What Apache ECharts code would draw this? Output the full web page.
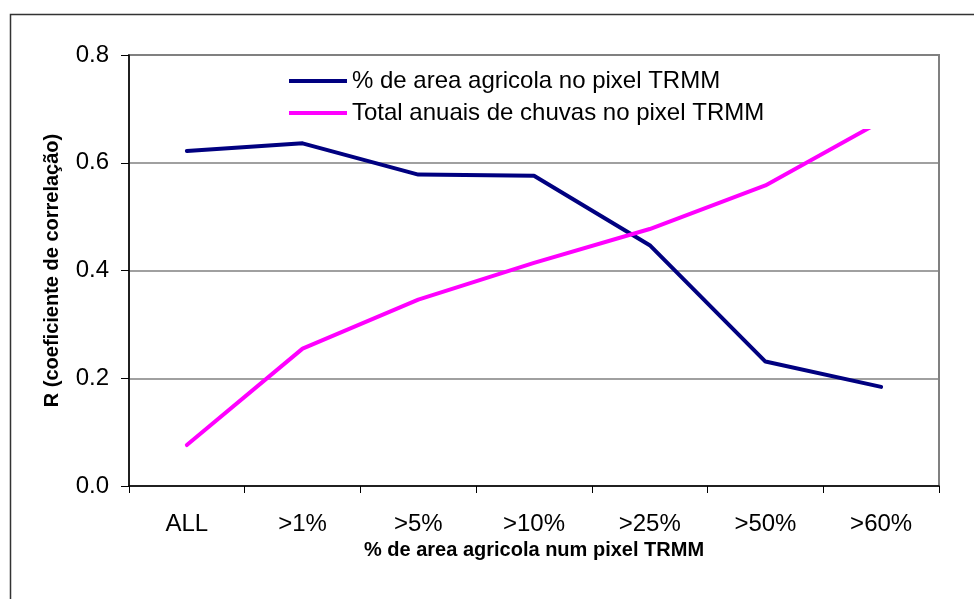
<!DOCTYPE html>
<html>
<head>
<meta charset="utf-8">
<script src="https://cdn.jsdelivr.net/npm/echarts@6/dist/echarts.min.js"></script>
<style>
  html, body { margin: 0; padding: 0; background: #fff; }
  #chart { width: 974px; height: 599px; }
</style>
</head>
<body>
<div id="chart"></div>
<script>
const categories = ['ALL', '>1%', '>5%', '>10%', '>25%', '>50%', '>60%'];
const seriesAgri = [0.622, 0.636, 0.578, 0.576, 0.447, 0.231, 0.184];
const seriesRain = [0.076, 0.255, 0.346, 0.414, 0.477, 0.558, 0.677];
const seriesNames = ['% de area agricola no pixel TRMM', 'Total anuais de chuvas no pixel TRMM'];
const yTicks = [0, 0.2, 0.4, 0.6, 0.8];
const xTitle = '% de area agricola num pixel TRMM';
const yTitle = 'R (coeficiente de correlação)';

const FONT = 'Arial, "Liberation Sans", sans-serif';
const chart = echarts.init(document.getElementById('chart'), null, { renderer: 'canvas' });
chart.setOption({
  animation: false,
  backgroundColor: '#ffffff',
  graphic: [{
    type: 'rect', silent: true, z: 0,
    shape: { x: 10.5, y: 14.5, width: 1000, height: 1000 },
    style: { fill: 'none', stroke: '#333333', lineWidth: 1.5 }
  }],
  grid: { left: 129, right: 35, top: 55, bottom: 113, show: true, borderColor: '#808080', borderWidth: 2, backgroundColor: 'transparent' },
  legend: {
    orient: 'vertical',
    left: 284, top: 64,
    padding: [5, 150, 4, 5],
    backgroundColor: '#ffffff',
    icon: 'rect',
    itemWidth: 58, itemHeight: 4,
    itemGap: 8,
    textStyle: { fontFamily: FONT, fontSize: 24, color: '#000', lineHeight: 24 },
    data: seriesNames
  },
  xAxis: {
    type: 'category',
    data: categories,
    boundaryGap: true,
    name: xTitle,
    nameLocation: 'middle',
    nameGap: 52,
    nameTextStyle: { fontFamily: FONT, fontSize: 20, fontWeight: 'bold', color: '#000' },
    axisLine: { lineStyle: { color: '#000', width: 1.5 } },
    axisTick: { show: true, length: 7, lineStyle: { color: '#000' } },
    axisLabel: { fontFamily: FONT, fontSize: 24, color: '#000', margin: 26 },
    splitLine: { show: false }
  },
  yAxis: {
    type: 'value',
    min: 0, max: 0.8, interval: 0.2,
    name: yTitle,
    nameLocation: 'middle',
    nameGap: 67,
    nameRotate: 90,
    nameTextStyle: { fontFamily: FONT, fontSize: 20, fontWeight: 'bold', color: '#000' },
    axisLine: { show: true, lineStyle: { color: '#000', width: 1.5 } },
    axisTick: { show: true, length: 8, lineStyle: { color: '#000' } },
    axisLabel: { fontFamily: FONT, fontSize: 24, color: '#000', margin: 20,
      formatter: v => yTicks.includes(Math.round(v * 10) / 10) ? v.toFixed(1) : '' },
    splitLine: { show: true, lineStyle: { color: '#808080', width: 1.5 } }
  },
  series: [
    { name: seriesNames[0], type: 'line', data: seriesAgri, showSymbol: false, symbol: 'none',
      itemStyle: { color: '#000080' }, lineStyle: { color: '#000080', width: 4, cap: 'round', join: 'round' }, z: 2 },
    { name: seriesNames[1], type: 'line', data: seriesRain, showSymbol: false, symbol: 'none',
      itemStyle: { color: '#FF00FF' }, lineStyle: { color: '#FF00FF', width: 4, cap: 'round', join: 'round' }, z: 2 }
  ]
});
</script>
</body>
</html>
